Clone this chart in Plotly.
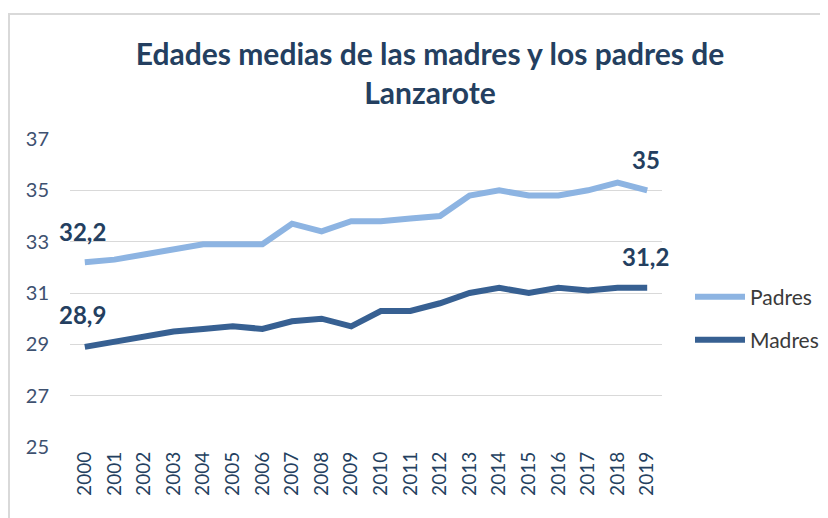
import plotly.graph_objects as go

years = [str(y) for y in range(2000, 2020)]
padres = [32.2, 32.3, 32.5, 32.7, 32.9, 32.9, 32.9, 33.7, 33.4, 33.8,
          33.8, 33.9, 34.0, 34.8, 35.0, 34.8, 34.8, 35.0, 35.3, 35.0]
madres = [28.9, 29.1, 29.3, 29.5, 29.6, 29.7, 29.6, 29.9, 30.0, 29.7,
          30.3, 30.3, 30.6, 31.0, 31.2, 31.0, 31.2, 31.1, 31.2, 31.2]
y_ticks = [25, 27, 29, 31, 33, 35, 37]

# page has an 8px body margin; work in screen pixels and subtract it
OFF = 8
W, H = 820, 510
L, T = 70 - OFF, 139 - OFF
pw, ph = 592, 308
R, B = W - L - pw, H - T - ph

def px_x(x):
    return (x - OFF - L) / pw

def px_y(y):
    return (T + ph - (y - OFF)) / ph

FONT = "Lato"
NAVY = "#243F60"
TICK = "#3E5170"

fig = go.Figure()
fig.add_trace(go.Scatter(x=years, y=padres, mode="lines", name="Padres",
                         line=dict(color="#8DB4E2", width=6), legend="legend"))
fig.add_trace(go.Scatter(x=years, y=madres, mode="lines", name="Madres",
                         line=dict(color="#376092", width=6), legend="legend2"))

def label(idx, series, text, dx, dy):
    fig.add_annotation(x=idx, y=series[idx], xref="x", yref="y",
                       text=f"<b>{text}</b>",
                       showarrow=False, xshift=dx, yshift=dy,
                       font=dict(family=FONT, size=24, color=NAVY))

label(0, padres, "32,2", -2, 31)
label(0, madres, "28,9", -2, 32)
label(19, padres, "35", -1, 31)
label(19, madres, "31,2", -2, 31)

fig.add_shape(type="rect", xref="paper", yref="paper",
              x0=px_x(9), x1=px_x(860), y0=px_y(540), y1=px_y(14),
              line=dict(color="#D9D9D9", width=2), fillcolor="rgba(0,0,0,0)",
              layer="below")

fig.update_layout(
    width=W, height=H,
    margin=dict(l=L, r=R, t=T, b=B, autoexpand=False),
    paper_bgcolor="white", plot_bgcolor="white",
    title=dict(text="<b>Edades medias de las madres y los padres de<br>Lanzarote</b>",
               x=px_x(430), xanchor="center", xref="paper",
               y=1 - (65 - OFF) / H, yanchor="middle",
               font=dict(family=FONT, size=30, color=NAVY)),
    xaxis=dict(type="category", range=[-0.5, 19.5], tickangle=-90,
               showgrid=False, showline=False, ticks="", automargin=False,
               tickfont=dict(family=FONT, size=19, color=NAVY)),
    yaxis=dict(range=[25, 37], tickvals=y_ticks, showgrid=True,
               gridcolor="#D9D9D9", gridwidth=1, zeroline=False,
               showline=False, ticks="", ticklabelstandoff=20, automargin=False,
               tickfont=dict(family=FONT, size=20, color=TICK)),
    legend=dict(x=px_x(690), y=px_y(297), xanchor="left", yanchor="middle",
                font=dict(family=FONT, size=21, color="#3A3A3A"),
                itemwidth=50, bgcolor="rgba(0,0,0,0)"),
    legend2=dict(x=px_x(690), y=px_y(340), xanchor="left", yanchor="middle",
                 font=dict(family=FONT, size=21, color="#3A3A3A"),
                 itemwidth=50, bgcolor="rgba(0,0,0,0)"),
    showlegend=True,
)

fig.write_html("out.html")
